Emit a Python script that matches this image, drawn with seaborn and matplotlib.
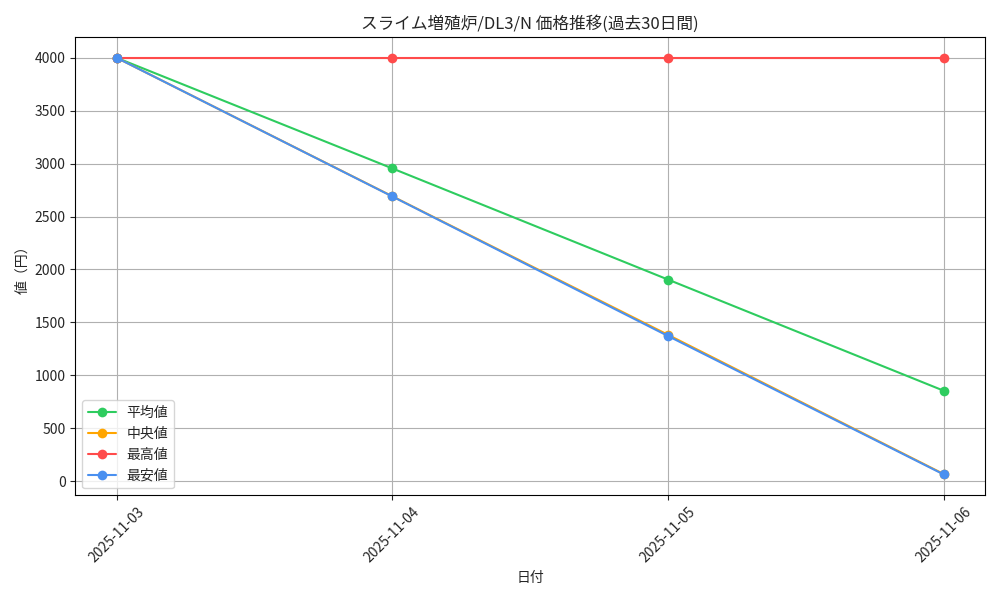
import pandas as pd
import matplotlib
matplotlib.use("Agg")
import matplotlib.pyplot as plt
import seaborn as sns

# Data
dates = ["2025-11-03", "2025-11-04", "2025-11-05", "2025-11-06"]
avg_price = [4000, 2955, 1905, 855]
median_price = [4000, 2692, 1383, 68]
max_price = [4000, 4000, 4000, 4000]
min_price = [4000, 2690, 1372, 64]

series_names = ["平均値", "中央値", "最高値", "最安値"]
series_colors = ["#2ecc5f", "#ffa500", "#ff4b4b", "#4a90f0"]

df = pd.DataFrame({
    "日付": dates * 4,
    "値": avg_price + median_price + max_price + min_price,
    "系列": [n for n in series_names for _ in dates],
})

sns.set_style("ticks")
plt.rcParams["font.family"] = ["Noto Sans CJK JP", "DejaVu Sans"]

fig, ax = plt.subplots(figsize=(10, 6), dpi=100)
ax.grid(True, color="#b0b0b0", linewidth=0.8)
ax.set_axisbelow(True)

sns.lineplot(data=df, x="日付", y="値", hue="系列", hue_order=series_names,
             palette=series_colors, marker="o", markersize=7, markeredgewidth=0,
             linewidth=1.5, ax=ax)

ax.set_title("スライム増殖炉/DL3/N 価格推移(過去30日間)", fontsize=12)
ax.set_xlabel("日付")
ax.set_ylabel("値（円）")
ax.set_yticks(range(0, 4001, 500))
plt.setp(ax.get_xticklabels(), rotation=45)
for s in ax.spines.values():
    s.set_visible(True)
    s.set_color("black")
ax.legend(loc="lower left", title=None)

plt.tight_layout()
plt.savefig("out.png")
